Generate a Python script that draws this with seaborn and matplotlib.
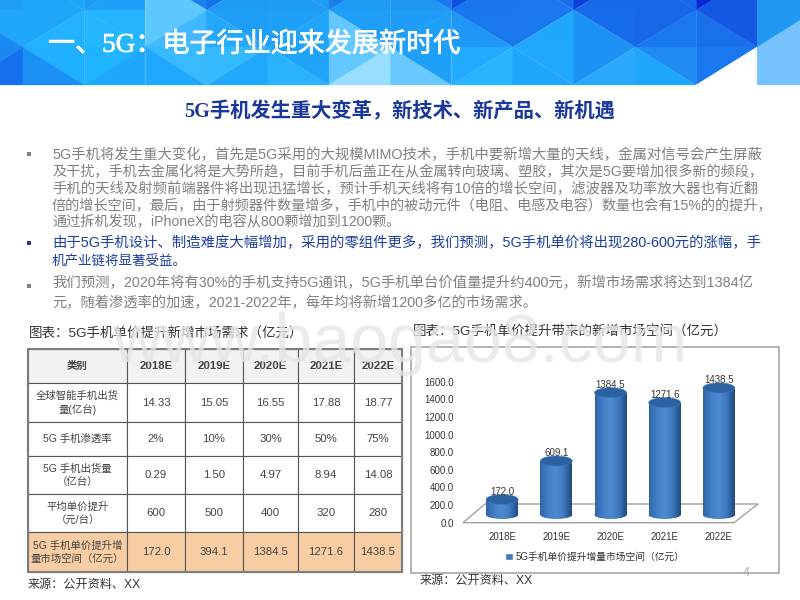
import numpy as np
import pandas as pd
import matplotlib
matplotlib.use("Agg")
import matplotlib.pyplot as plt
import matplotlib.patheffects as pe
import seaborn as sns
from matplotlib.colors import LinearSegmentedColormap
from matplotlib.patches import Ellipse, Polygon, Rectangle

# chart data
years = ["2018E", "2019E", "2020E", "2021E", "2022E"]
market_space = [172.0, 609.1, 1384.5, 1271.6, 1438.5]
legend_label = "5G手机单价提升增量市场空间（亿元）"

# table data
table_head = ["类别"] + years
table_rows = [
    ["全球智能手机出货\n量(亿台)", "14.33", "15.05", "16.55", "17.88", "18.77"],
    ["5G 手机渗透率", "2%", "10%", "30%", "50%", "75%"],
    ["5G 手机出货量\n（亿台）", "0.29", "1.50", "4.97", "8.94", "14.08"],
    ["平均单价提升\n（元/台）", "600", "500", "400", "320", "280"],
    ["5G 手机单价提升增\n量市场空间（亿元）", "172.0", "394.1", "1384.5", "1271.6", "1438.5"],
]

# slide text
title = "一、5G：电子行业迎来发展新时代"
subtitle = "5G手机发生重大变革，新技术、新产品、新机遇"
para1 = [
    "5G手机将发生重大变化，首先是5G采用的大规模MIMO技术，手机中要新增大量的天线，金属对信号会产生屏蔽",
    "及干扰，手机去金属化将是大势所趋，目前手机后盖正在从金属转向玻璃、塑胶，其次是5G要增加很多新的频段，",
    "手机的天线及射频前端器件将出现迅猛增长，预计手机天线将有10倍的增长空间，滤波器及功率放大器也有近翻",
    "倍的增长空间，最后，由于射频器件数量增多，手机中的被动元件（电阻、电感及电容）数量也会有15%的的提升，",
    "通过拆机发现，iPhoneX的电容从800颗增加到1200颗。",
]
para2 = [
    "由于5G手机设计、制造难度大幅增加，采用的零组件更多，我们预测，5G手机单价将出现280-600元的涨幅，手",
    "机产业链将显著受益。",
]
para3 = [
    "我们预测，2020年将有30%的手机支持5G通讯，5G手机单台价值量提升约400元，新增市场需求将达到1384亿",
    "元，随着渗透率的加速，2021-2022年，每年均将新增1200多亿的市场需求。",
]

sns.set_theme(style="white")
SANS = ["Liberation Sans", "Noto Sans CJK SC", "DejaVu Sans"]
SERIF = ["Liberation Serif", "Noto Sans CJK SC", "DejaVu Sans"]
plt.rcParams["font.family"] = SANS

fig = plt.figure(figsize=(8, 6), dpi=100)
bg = fig.add_axes([0, 0, 1, 1], zorder=0)
bg.set_xlim(0, 800)
bg.set_ylim(600, 0)
bg.axis("off")

###########################################
## header mosaic
###########################################
x_grid = [23 + 61.2 * i for i in range(-1, 13)]
y_grid = [-27, 10, 47, 85]
# per column: top band (2 triangles), middle band (2), bottom band (2)
header_colors = [
    ["#1e9ff5", "#1e9ff5", "#1fa6f8", "#1a8cf0", "#1a86f0", "#1570f0"],
    ["#1ea6f8", "#1ea6f8", "#1fa6f8", "#22b2ff", "#1fb0ff", "#1a90f4"],
    ["#1f9af2", "#1fa0f8", "#25b5ff", "#25b8ff", "#1fb4ff", "#1fa8fb"],
    ["#1c80ec", "#5cc8ff", "#5cc8ff", "#3fb8ff", "#38baff", "#1fa8ff"],
    ["#1472ea", "#1f9af5", "#1e9ef6", "#24a8fb", "#34baff", "#20a8fc"],
    ["#1f9cf4", "#1f9cf4", "#1fa0f8", "#1fa4fa", "#1fa4fa", "#2ab2ff"],
    ["#1a80ec", "#1f9af4", "#1f9ef8", "#62c8ff", "#62c8ff", "#98deff"],
    ["#1a78ee", "#1f98f4", "#1f9cf6", "#1f9ff8", "#1fa0f8", "#68c8ff"],
    ["#1050e0", "#1a76ee", "#1a78ee", "#1f98f5", "#22aaff", "#2ab4ff"],
    ["#1a6eec", "#1a78ee", "#1a78ee", "#20a6fb", "#20a8fc", "#1fa6fb"],
    ["#0c40dc", "#166aea", "#166cec", "#1c92f4", "#1c92f4", "#2aa8fc"],
    ["#1668e8", "#1668e8", "#1668e8", "#1a78ee", "#1e8cf2", "#1ea6fb"],
    ["#0a28d8", "#1558e4", "#1558e4", "#1a70ea", "#1a78ee", "white"],
]
for i in range(len(x_grid) - 1):
    for j in range(len(y_grid) - 1):
        x0, x1 = x_grid[i], x_grid[i + 1]
        y0, y1 = y_grid[j], y_grid[j + 1]
        if (i + j) % 2 == 0:
            tris = [[(x0, y0), (x1, y0), (x0, y1)], [(x1, y0), (x1, y1), (x0, y1)]]
        else:
            tris = [[(x0, y0), (x1, y0), (x1, y1)], [(x0, y0), (x1, y1), (x0, y1)]]
        for k, tri in enumerate(tris):
            col = header_colors[i][j * 2 + k]
            bg.add_patch(Polygon(tri, closed=True, fc=col, ec=col, lw=0.2, zorder=1))
bg.add_patch(Rectangle((757, 0), 43, 85, fc="#1e98f0", ec="none", zorder=2))
bg.add_patch(Polygon([(757, 47), (800, 20), (800, 85), (757, 85)], fc="#76c2fd", ec="none", zorder=2))
t = bg.text(48, 45, title, color="white", fontsize=19.5, weight="medium", family=SERIF, va="center", zorder=3)
t.set_path_effects([pe.withStroke(linewidth=0.5, foreground="white")])
bg.text(400, 112, subtitle, color="#1a389c", fontsize=14.6, weight="bold", family=SERIF,
        ha="center", va="center")


def fit_line(txt, x, y, right, color, size=10):
    # scale the font so a line ends where it ends on the slide
    t = bg.text(x, y, txt, color=color, fontsize=size, va="center")
    w = t.get_window_extent(fig.canvas.get_renderer()).width
    t.set_fontsize(size * (right - x) / w)
    return t


###########################################
## body text
###########################################
GRAY = "#808080"
BLUE = "#1c3fa0"
for txt, yy, rr in zip(para1, [155, 172, 189, 206, 222], [763, 763, 756, 775, 401]):
    fit_line(txt, 52, yy, rr, GRAY)
for txt, yy, rr in zip(para2, [243, 262], [761, 187]):
    fit_line(txt, 52, yy, rr, BLUE)
for txt, yy, rr in zip(para3, [283, 303], [755, 537]):
    fit_line(txt, 52, yy, rr, GRAY)
for yy, c in zip([154, 243, 286], ["#7f7f7f", BLUE, "#7f7f7f"]):
    bg.add_patch(Rectangle((27, yy - 2), 4, 4, fc=c, ec="none"))

###########################################
## table
###########################################
col_edges = [28, 127, 185, 243, 298, 354, 402]
row_edges = [349, 383, 422, 456, 494, 532, 572]
rows = [table_head] + table_rows
for r, row in enumerate(rows):
    for c, cell in enumerate(row):
        x0, x1 = col_edges[c], col_edges[c + 1]
        y0, y1 = row_edges[r], row_edges[r + 1]
        if r == 0:
            fc = "#f2f2f2"
        elif r == len(rows) - 1:
            fc = "#f9cda4"
        else:
            fc = "white"
        bg.add_patch(Rectangle((x0, y0), x1 - x0, y1 - y0, fc=fc, ec="#50565a", lw=0.8))
        bg.text((x0 + x1) / 2, (y0 + y1) / 2, cell, ha="center", va="center", color="#444444",
                fontsize=7.5 if c == 0 else 8.2, weight="bold" if r == 0 else "normal", linespacing=1.35)
bg.add_patch(Rectangle((28, 349), 374, 223, fc="none", ec="#7a7e82", lw=1.5))
bg.text(29, 333, "图表：5G手机单价提升新增市场需求（亿元）", color="#333333", fontsize=9.7, va="center")
bg.text(28, 585, "来源：公开资料、XX", color="#333333", fontsize=8.7, va="center")

###########################################
## chart frame and floor
###########################################
bg.text(413, 331, "图表：5G手机单价提升带来的新增市场空间（亿元）", color="#333333", fontsize=9.7, va="center")
bg.text(420, 581, "来源：公开资料、XX", color="#333333", fontsize=8.7, va="center")
bg.add_patch(Rectangle((411, 347), 368, 226, fc="white", ec="#a6a6a6", lw=1.2))
bg.add_patch(Polygon([(463, 522.7), (485, 504), (758, 504), (734, 522.7)], fc="white", ec="#a0a0a0", lw=1))

df = pd.DataFrame({"year": years, "value": market_space})
ax = fig.add_axes([475 / 800, (600 - 522.7) / 600, 271 / 800, 141 / 600], zorder=1)
ax.patch.set_alpha(0)
sns.barplot(data=df, x="year", y="value", color="#3f79bd", width=0.59, saturation=1, ax=ax, label=legend_label)
ax.set_xlim(-0.5, 4.5)
ax.set_ylim(0, 1600)
ax.set_yticks(np.arange(0, 1601, 200))
ax.set_yticklabels([f"{v:.1f}" for v in np.arange(0, 1601, 200)])
ax.set_xlabel("")
ax.set_ylabel("")
sns.despine(ax=ax, left=True, bottom=True)
ax.tick_params(axis="both", length=0, labelsize=7, labelcolor="#333333")
ax.tick_params(axis="y", pad=15)
ax.tick_params(axis="x", pad=6.5)
ax.legend(loc="center", bbox_to_anchor=(595 / 800, 1 - 557 / 600), bbox_transform=fig.transFigure,
          frameon=False, fontsize=7, handlelength=0.8, handleheight=0.8, handletextpad=0.3, labelcolor="#333333")

###########################################
## cylinder look on top of the bars
###########################################
top = fig.add_axes([0, 0, 1, 1], zorder=2)
top.axis("off")
fig.canvas.draw()
cyl = LinearSegmentedColormap.from_list("cyl", ["#2f67a8", "#437fc6", "#4f8bd0", "#3f78bc", "#1d4a84"])
grad = np.linspace(0, 1, 64).reshape(1, -1)
depth = 8
for patch, val in zip(ax.patches, market_space):
    box = patch.get_window_extent()
    left, right = box.x0, box.x1
    ybase = 600 - box.y0 - depth
    ytop = 600 - box.y1 - depth
    mid = (left + right) / 2
    w = right - left
    patch.set_visible(False)
    low = Ellipse((mid, ybase), w, 8, fc="#2a5f9e", ec="none", zorder=3)
    top.add_patch(low)
    im = top.imshow(grad, cmap=cyl, extent=[left, right, ybase + 5, ybase], aspect="auto", zorder=3.1)
    im.set_clip_path(low)
    body = Rectangle((left, ytop), w, ybase - ytop, fc="none", ec="none", zorder=3)
    top.add_patch(body)
    im = top.imshow(grad, cmap=cyl, extent=[left, right, ybase, ytop], aspect="auto", zorder=3.2)
    im.set_clip_path(body)
    top.add_patch(Ellipse((mid, ytop), w, 10, fc="#2c62a2", ec="#3f79bd", lw=0.4, zorder=3.3))
    top.text(mid, ytop - 8, f"{val:.1f}", ha="center", va="center", fontsize=7, color="#333333", zorder=3.4)
top.set_xlim(0, 800)
top.set_ylim(600, 0)
top.set_aspect("auto")

# watermark and page number
top.text(400, 362, "www.baogao8.com", fontsize=49, color="#e6e6e6", alpha=0.8, ha="center", va="baseline", zorder=5)
top.text(746, 573, "4", fontsize=9, color="#a8a8a8", ha="center", va="center", zorder=5)

fig.savefig("out.png", dpi=100)
